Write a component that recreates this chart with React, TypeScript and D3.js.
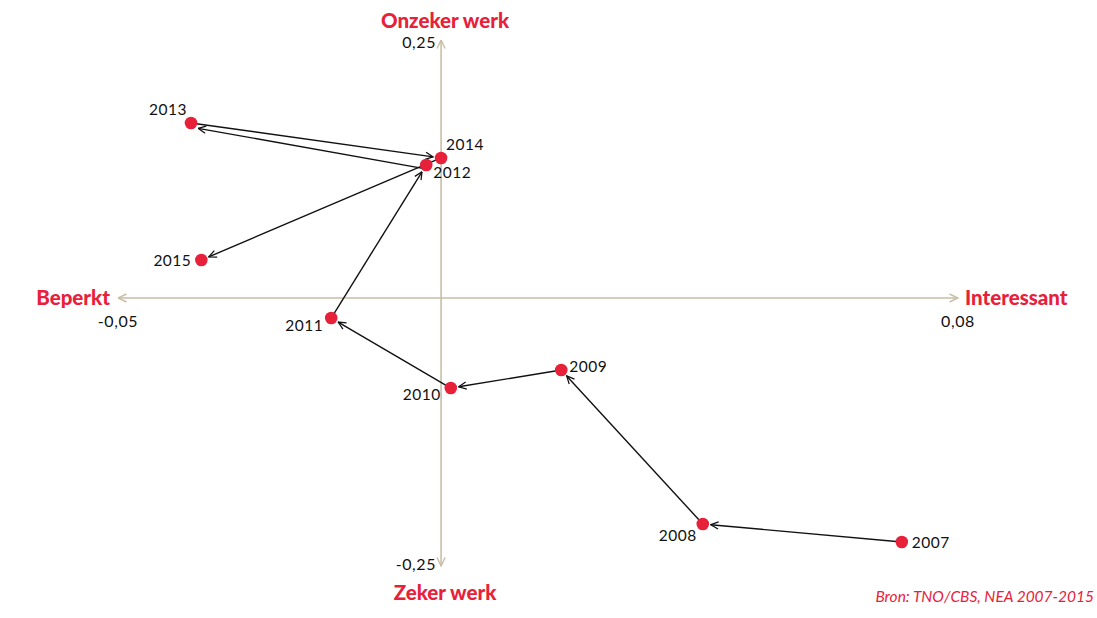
import React from 'react'
import * as d3 from 'd3'

// jaren en posities (x: beperkt -> interessant, y: zeker -> onzeker werk)
const years = ['2007', '2008', '2009', '2010', '2011', '2012', '2013', '2014', '2015']
const xValues = [0.0713, 0.0405, 0.0186, 0.0015, -0.017, -0.0023, -0.0387, 0.0, -0.0371]
const yValues = [-0.2276, -0.2108, -0.0672, -0.084, -0.0187, 0.1289, 0.1696, 0.1357, 0.0368]

const xTicks = ['-0,05', '0,08']
const yTicks = ['0,25', '-0,25']

const red = '#e8213a'
const axisColor = '#c9bea6'
const width = 1097
const height = 618

const x = d3.scaleLinear().domain([-0.05, 0.08]).range([118, 958])
const y = d3.scaleLinear().domain([-0.25, 0, 0.25]).range([566, 298, 40])

// where each year label sits relative to its dot
const labelPos: Record<string, [number, number, string]> = {
  '2007': [10, 6, 'start'],
  '2008': [-6, 17, 'end'],
  '2009': [8, 2, 'start'],
  '2010': [-10, 12, 'end'],
  '2011': [-8, 13, 'end'],
  '2012': [7, 13, 'start'],
  '2013': [-4, -8, 'end'],
  '2014': [5, -8, 'start'],
  '2015': [-10, 6, 'end']
}

// sideways nudge so the 2012->2013 and 2013->2014 arrows stay apart
const nudge: Record<string, number> = { '2013': -4 }

const points = years.map((yr, i) => ({ yr, px: x(xValues[i]), py: y(yValues[i]) }))

function arrowSegment(a: { px: number; py: number }, b: { px: number; py: number }, off: number) {
  const dx = b.px - a.px
  const dy = b.py - a.py
  const len = Math.hypot(dx, dy)
  const ux = dx / len
  const uy = dy / len
  const nx = -uy * off
  const ny = ux * off
  const gap = 8
  return { x1: a.px + nx, y1: a.py + ny, x2: b.px - ux * gap + nx, y2: b.py - uy * gap + ny }
}

export default function App() {
  const font = 'Lato, "Open Sans", sans-serif'
  return (
    <svg
      width={width}
      height={height}
      style={{ position: 'absolute', left: 0, top: 0 }}
      fontFamily={font}
    >
      <defs>
        <marker id="arr" viewBox="0 0 10 10" refX="9.5" refY="5" markerWidth="9" markerHeight="9" markerUnits="userSpaceOnUse" orient="auto">
          <path d="M1,1 L9.5,5 L1,9" fill="none" stroke="#111" strokeWidth="1.4" />
        </marker>
        <marker id="axarr" viewBox="0 0 10 10" refX="9.5" refY="5" markerWidth="10" markerHeight="10" markerUnits="userSpaceOnUse" orient="auto">
          <path d="M1,1 L9.5,5 L1,9" fill="none" stroke={axisColor} strokeWidth="1.4" />
        </marker>
      </defs>

      {/* assen */}
      <line x1={x(0)} y1={y(0)} x2={x(0.08)} y2={y(0)} stroke={axisColor} strokeWidth={1.6} markerEnd="url(#axarr)" />
      <line x1={x(0)} y1={y(0)} x2={x(-0.05)} y2={y(0)} stroke={axisColor} strokeWidth={1.6} markerEnd="url(#axarr)" />
      <line x1={x(0)} y1={y(0)} x2={x(0)} y2={y(0.25)} stroke={axisColor} strokeWidth={1.6} markerEnd="url(#axarr)" />
      <line x1={x(0)} y1={y(0)} x2={x(0)} y2={y(-0.25)} stroke={axisColor} strokeWidth={1.6} markerEnd="url(#axarr)" />

      {/* tick labels */}
      <g fontSize={16} letterSpacing={0.6} fill="#111">
        <text x={x(-0.05)} y={y(0) + 29} textAnchor="middle">{xTicks[0]}</text>
        <text x={x(0.08)} y={y(0) + 29} textAnchor="middle">{xTicks[1]}</text>
        <text x={x(0) - 5} y={y(0.25) + 8} textAnchor="end">{yTicks[0]}</text>
        <text x={x(0) - 5} y={y(-0.25) + 4} textAnchor="end">{yTicks[1]}</text>
      </g>

      {/* as-titels */}
      <g fill={red} fontWeight="900" fontSize={20.5}>
        <text x={x(0) + 4} y={28} textAnchor="middle">Onzeker werk</text>
        <text x={x(0) + 4} y={600} textAnchor="middle">Zeker werk</text>
        <text x={110} y={305} textAnchor="end">Beperkt</text>
        <text x={965} y={305} textAnchor="start">Interessant</text>
      </g>

      {/* pijlen */}
      {points.slice(1).map((p, i) => {
        const s = arrowSegment(points[i], p, nudge[p.yr] || 0)
        return (
          <line key={p.yr} {...s} stroke="#111" strokeWidth={1.4} markerEnd="url(#arr)" />
        )
      })}

      {/* punten */}
      {points.map(p => (
        <circle key={p.yr} cx={p.px} cy={p.py} r={6.3} fill={red} />
      ))}

      <g fontSize={15.5} letterSpacing={0.5} fill="#111">
        {points.map(p => {
          const [dx, dy, anchor] = labelPos[p.yr]
          return (
            <text key={p.yr} x={p.px + dx} y={p.py + dy} textAnchor={anchor}>{p.yr}</text>
          )
        })}
      </g>

      <text x={1094} y={602} textAnchor="end" fill={red} fontStyle="italic" fontSize={15.5}>
        Bron: TNO/CBS, NEA 2007-2015
      </text>
    </svg>
  )
}
